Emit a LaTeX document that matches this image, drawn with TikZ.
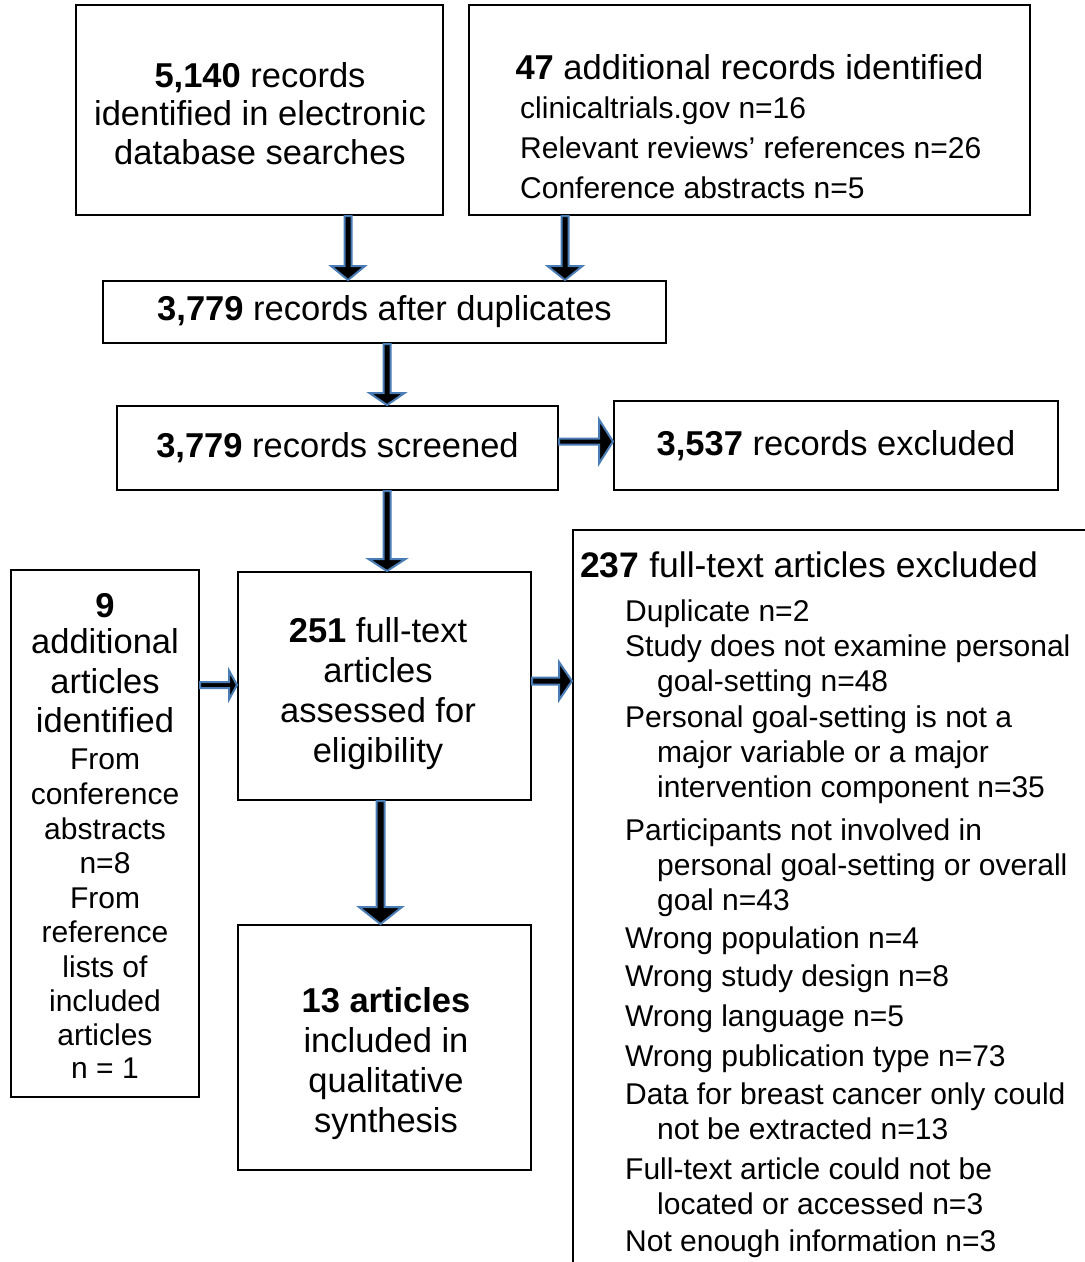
\documentclass[tikz,border=0pt]{standalone}
\usepackage{fontspec}
\setmainfont{Liberation Sans}
\usetikzlibrary{calc}
\definecolor{arrowblue}{HTML}{4A7DB5}
\tikzset{
  box/.style={draw=black, line width=2pt, rectangle, inner sep=0pt},
  big/.style={font=\fontsize{34.5}{40}\selectfont},
  small/.style={font=\fontsize{30}{35}\selectfont},
  headline/.style={font=\fontsize{35.5}{40}\selectfont},
  blockarrow/.style={fill=black, draw=arrowblue, line width=2pt, line join=miter},
  txt/.style={anchor=base, inner sep=0pt},
  txtl/.style={anchor=base west, inner sep=0pt},
}
% block arrow pointing down: from #1 to #2, half shaft #3, half head #4, head length #5
\newcommand\flowdown[5]{\filldraw[blockarrow] ($(#1)+(-#3,0)$) -- ($(#2)+(-#3,-#5)$) -- ($(#2)+(-#4,-#5)$) -- (#2) -- ($(#2)+(#4,-#5)$) -- ($(#2)+(#3,-#5)$) -- ($(#1)+(#3,0)$) -- cycle;}
% block arrow pointing right
\newcommand\flowright[5]{\filldraw[blockarrow] ($(#1)+(0,-#3)$) -- ($(#2)+(-#5,-#3)$) -- ($(#2)+(-#5,-#4)$) -- (#2) -- ($(#2)+(-#5,#4)$) -- ($(#2)+(-#5,#3)$) -- ($(#1)+(0,#3)$) -- cycle;}
\begin{document}
\begin{tikzpicture}[x=1pt, y=-1pt]
\useasboundingbox (0,0) rectangle (1085,1262);
\fill[white] (0,0) rectangle (1085,1262);
\clip (0,0) rectangle (1085,1262);

% boxes
\node[box, minimum width=367pt, minimum height=210pt] (A) at (259.5,110) {};
\node[box, minimum width=561pt, minimum height=210pt] (B) at (749.5,110) {};
\node[box, minimum width=563pt, minimum height=62pt, big] (C) at (384.5,312) {\textbf{3,779} records after duplicates};
\node[box, minimum width=441pt, minimum height=84pt, big] (D) at (337.5,448) {\textbf{3,779} records screened};
\node[box, minimum width=444pt, minimum height=89pt, big] (E) at (836,445.5) {\textbf{3,537} records excluded};
\node[box, minimum width=293pt, minimum height=228pt] (F) at (384.5,686) {};
\node[box, minimum width=293pt, minimum height=245pt] (G) at (384.5,1047.5) {};
\node[box, minimum width=188pt, minimum height=527pt] (H) at (105,833.5) {};
\node[box, minimum width=560pt, minimum height=800pt] (I) at (853,930) {};

% texts
\node[txt, big] (a1) at (260,87) {\textbf{5,140} records};
\node[txt, big] (a2) at (260,125) {identified in electronic};
\node[txt, big] (a3) at (260,164) {database searches};

\node[txt, big] (b0) at (749.5,79) {\textbf{47} additional records identified};
\node[txtl, small] (b1) at (520,118) {clinicaltrials.gov n=16};
\node[txtl, small] (b2) at (520,158) {Relevant reviews’ references n=26};
\node[txtl, small] (b3) at (520,198) {Conference abstracts n=5};

\node[txt, big] (f1) at (378,642) {\textbf{251} full-text};
\node[txt, big] (f2) at (378,682) {articles};
\node[txt, big] (f3) at (378,722) {assessed for};
\node[txt, big] (f4) at (378,762) {eligibility};

\node[txt, big] (g1) at (386,1012) {\textbf{13 articles}};
\node[txt, big] (g2) at (386,1052) {included in};
\node[txt, big] (g3) at (386,1092) {qualitative};
\node[txt, big] (g4) at (386,1132) {synthesis};

\node[txt, big] (h1) at (105,617) {\textbf{9}};
\node[txt, big] (h2) at (105,653) {additional};
\node[txt, big] (h3) at (105,693) {articles};
\node[txt, big] (h4) at (105,732) {identified};
\foreach \n/\yy/\t in {5/769/From, 6/804/conference, 7/839/abstracts, 8/873/n=8,
  9/908/From, 10/942/reference, 11/977/lists of, 12/1011/included, 13/1045/articles, 14/1078/n = 1}
  \node[txt, small] (h\n) at (105,\yy) {\t};

\node[txtl, headline] (i0) at (580,577) {\textbf{237} full-text articles excluded};
\foreach \n/\xx/\yy/\t in {
  1/625/621/Duplicate n=2,
  2/625/656/Study does not examine personal,
  3/657/691/goal-setting n=48,
  4/625/727/Personal goal-setting is not a,
  5/657/762/major variable or a major,
  6/657/797/intervention component n=35,
  7/625/840/Participants not involved in,
  8/657/875/personal goal-setting or overall,
  9/657/910/goal n=43,
  10/625/948/Wrong population n=4,
  11/625/986/Wrong study design n=8,
  12/625/1026/Wrong language n=5,
  13/625/1066/Wrong publication type n=73,
  14/625/1104/Data for breast cancer only could,
  15/657/1139/not be extracted n=13,
  16/625/1179/Full-text article could not be,
  17/657/1214/located or accessed n=3,
  18/625/1251/Not enough information n=3}
  \node[txtl, small] (i\n) at (\xx,\yy) {\t};

% connectors
\coordinate (xa) at (348,0);
\coordinate (xb) at (565,0);
\coordinate (xc) at (387,0);
\coordinate (xf) at (380.5,0);
\coordinate (yd) at (0,441.5);
\coordinate (yh) at (0,685);
\coordinate (yf) at (0,681);

\coordinate (pa1) at (A.south -| xa); \coordinate (pa2) at (C.north -| xa);
\coordinate (pb1) at (B.south -| xb); \coordinate (pb2) at (C.north -| xb);
\coordinate (pc1) at (C.south -| xc); \coordinate (pc2) at (D.north -| xc);
\coordinate (pd1) at (D.south -| xc); \coordinate (pd2) at (F.north -| xc);
\coordinate (pf1) at (F.south -| xf); \coordinate (pf2) at (G.north -| xf);
\coordinate (pe1) at (D.east |- yd); \coordinate (pe2) at (E.west |- yd);
\coordinate (ph1) at (H.east |- yh); \coordinate (ph2) at (F.west |- yh);
\coordinate (pi1) at (F.east |- yf); \coordinate (pi2) at (I.west |- yf);

\flowdown{pa1}{pa2}{3.5}{17}{14}
\flowdown{pb1}{pb2}{3.5}{17.5}{14}
\flowdown{pc1}{pc2}{3.5}{17.5}{12}
\flowdown{pd1}{pd2}{3.5}{18.5}{12}
\flowdown{pf1}{pf2}{4}{21.5}{17}
\flowright{pe1}{pe2}{3}{22}{14}
\flowright{ph1}{ph2}{3}{14.5}{8}
\flowright{pi1}{pi2}{3.5}{19}{13}
\end{tikzpicture}
\end{document}
